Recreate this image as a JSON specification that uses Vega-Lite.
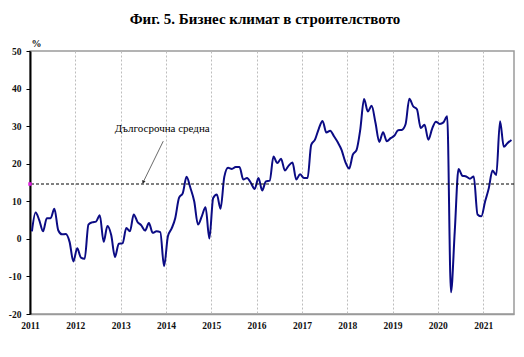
{
  "$schema": "https://vega.github.io/schema/vega-lite/v6.json",
  "autosize": {"type": "none"},
  "width": 484,
  "height": 263,
  "padding": {"left": 30, "top": 51, "right": 10, "bottom": 43},
  "background": "white",
  "title": {
    "text": "Фиг. 5. Бизнес климат в строителството",
    "font": "Liberation Serif",
    "fontSize": 15,
    "fontWeight": "bold",
    "color": "#000",
    "anchor": "middle",
    "frame": "group",
    "offset": 11,
    "dx": -7
  },
  "config": {
    "view": {"stroke": "#9a9a9a", "strokeWidth": 1.5},
    "axis": {
      "labelFont": "Liberation Serif",
      "labelFontSize": 9.5,
      "labelFontWeight": "bold",
      "labelColor": "#111",
      "titleFont": "Liberation Serif",
      "titleFontSize": 10,
      "titleFontWeight": "bold",
      "titleColor": "#111"
    },
    "axisY": {"labelOverlap": false, "tickCount": 8}
  },
  "datasets": {
    "series": [
      {"d": "2011-01-01", "v": 2.0}, {"d": "2011-02-01", "v": 7.0}, {"d": "2011-03-01", "v": 5.0}, {"d": "2011-04-01", "v": 2.0},
      {"d": "2011-05-01", "v": 5.5}, {"d": "2011-06-01", "v": 5.5}, {"d": "2011-07-01", "v": 8.0}, {"d": "2011-08-01", "v": 2.3},
      {"d": "2011-09-01", "v": 1.2}, {"d": "2011-10-01", "v": 1.3}, {"d": "2011-11-01", "v": -0.8}, {"d": "2011-12-01", "v": -6.0},
      {"d": "2012-01-01", "v": -2.5}, {"d": "2012-02-01", "v": -5.0}, {"d": "2012-03-01", "v": -5.3}, {"d": "2012-04-01", "v": 3.8},
      {"d": "2012-05-01", "v": 4.4}, {"d": "2012-06-01", "v": 4.6}, {"d": "2012-07-01", "v": 6.3}, {"d": "2012-08-01", "v": -0.8},
      {"d": "2012-09-01", "v": 3.4}, {"d": "2012-10-01", "v": 1.0}, {"d": "2012-11-01", "v": -4.8}, {"d": "2012-12-01", "v": -1.3},
      {"d": "2013-01-01", "v": -1.2}, {"d": "2013-02-01", "v": 2.9}, {"d": "2013-03-01", "v": 2.0}, {"d": "2013-04-01", "v": 6.5},
      {"d": "2013-05-01", "v": 4.5}, {"d": "2013-06-01", "v": 3.6}, {"d": "2013-07-01", "v": 2.2}, {"d": "2013-08-01", "v": 4.2},
      {"d": "2013-09-01", "v": 1.6}, {"d": "2013-10-01", "v": 2.0}, {"d": "2013-11-01", "v": 1.8}, {"d": "2013-12-01", "v": -7.3},
      {"d": "2014-01-01", "v": 0.7}, {"d": "2014-02-01", "v": 2.7}, {"d": "2014-03-01", "v": 5.5}, {"d": "2014-04-01", "v": 10.9},
      {"d": "2014-05-01", "v": 12.2}, {"d": "2014-06-01", "v": 16.5}, {"d": "2014-07-01", "v": 13.6}, {"d": "2014-08-01", "v": 10.0},
      {"d": "2014-09-01", "v": 3.8}, {"d": "2014-10-01", "v": 6.0}, {"d": "2014-11-01", "v": 8.4}, {"d": "2014-12-01", "v": 0.1},
      {"d": "2015-01-01", "v": 10.9}, {"d": "2015-02-01", "v": 11.8}, {"d": "2015-03-01", "v": 8.0}, {"d": "2015-04-01", "v": 16.5},
      {"d": "2015-05-01", "v": 18.9}, {"d": "2015-06-01", "v": 18.6}, {"d": "2015-07-01", "v": 19.1}, {"d": "2015-08-01", "v": 19.1},
      {"d": "2015-09-01", "v": 15.8}, {"d": "2015-10-01", "v": 16.2}, {"d": "2015-11-01", "v": 14.9}, {"d": "2015-12-01", "v": 13.3},
      {"d": "2016-01-01", "v": 16.2}, {"d": "2016-02-01", "v": 12.9}, {"d": "2016-03-01", "v": 15.3}, {"d": "2016-04-01", "v": 15.5},
      {"d": "2016-05-01", "v": 21.9}, {"d": "2016-06-01", "v": 20.2}, {"d": "2016-07-01", "v": 21.3}, {"d": "2016-08-01", "v": 18.2},
      {"d": "2016-09-01", "v": 19.5}, {"d": "2016-10-01", "v": 20.3}, {"d": "2016-11-01", "v": 15.8}, {"d": "2016-12-01", "v": 17.2},
      {"d": "2017-01-01", "v": 16.2}, {"d": "2017-02-01", "v": 16.2}, {"d": "2017-03-01", "v": 25.0}, {"d": "2017-04-01", "v": 26.4},
      {"d": "2017-05-01", "v": 29.3}, {"d": "2017-06-01", "v": 31.4}, {"d": "2017-07-01", "v": 28.3}, {"d": "2017-08-01", "v": 28.8},
      {"d": "2017-09-01", "v": 27.3}, {"d": "2017-10-01", "v": 25.7}, {"d": "2017-11-01", "v": 23.7}, {"d": "2017-12-01", "v": 20.5},
      {"d": "2018-01-01", "v": 18.7}, {"d": "2018-02-01", "v": 22.4}, {"d": "2018-03-01", "v": 23.6}, {"d": "2018-04-01", "v": 29.1},
      {"d": "2018-05-01", "v": 37.2}, {"d": "2018-06-01", "v": 33.9}, {"d": "2018-07-01", "v": 35.4}, {"d": "2018-08-01", "v": 30.9},
      {"d": "2018-09-01", "v": 25.8}, {"d": "2018-10-01", "v": 28.4}, {"d": "2018-11-01", "v": 26.0}, {"d": "2018-12-01", "v": 26.8},
      {"d": "2019-01-01", "v": 27.5}, {"d": "2019-02-01", "v": 28.9}, {"d": "2019-03-01", "v": 29.0}, {"d": "2019-04-01", "v": 30.5},
      {"d": "2019-05-01", "v": 37.3}, {"d": "2019-06-01", "v": 35.3}, {"d": "2019-07-01", "v": 34.5}, {"d": "2019-08-01", "v": 29.5},
      {"d": "2019-09-01", "v": 30.4}, {"d": "2019-10-01", "v": 26.4}, {"d": "2019-11-01", "v": 29.3}, {"d": "2019-12-01", "v": 31.2},
      {"d": "2020-01-01", "v": 30.6}, {"d": "2020-02-01", "v": 31.0}, {"d": "2020-03-01", "v": 32.6}, {"d": "2020-04-01", "v": -14.2},
      {"d": "2020-05-01", "v": 2.0}, {"d": "2020-06-01", "v": 18.6}, {"d": "2020-07-01", "v": 16.8}, {"d": "2020-08-01", "v": 16.6},
      {"d": "2020-09-01", "v": 16.0}, {"d": "2020-10-01", "v": 16.6}, {"d": "2020-11-01", "v": 6.5}, {"d": "2020-12-01", "v": 6.0},
      {"d": "2021-01-01", "v": 10.0}, {"d": "2021-02-01", "v": 13.5}, {"d": "2021-03-01", "v": 18.2}, {"d": "2021-04-01", "v": 17.0},
      {"d": "2021-05-01", "v": 31.3}, {"d": "2021-06-01", "v": 24.5}, {"d": "2021-07-01", "v": 25.5}, {"d": "2021-08-01", "v": 26.3}
    ],
    "avg": [{"d": "2011-01-01", "v": 14.6}],
    "note": [{"d": "2012-11-15", "v": 29.3, "label": "Дългосрочна средна"}],
    "arrow": [{"d1": "2013-12-10", "v1": 26.0, "d2": "2013-07-03", "v2": 15.2}]
  },
  "layer": [
    {
      "data": {"name": "series"},
      "mark": {"type": "line", "interpolate": "monotone", "color": "#0b0b84", "strokeWidth": 2},
      "encoding": {
        "x": {
          "field": "d",
          "type": "temporal",
          "timeUnit": "utcyearmonth",
          "bandPosition": 0.5,
          "scale": {"type": "utc", "domain": [{"year": 2011, "month": 1, "date": 1, "utc": true}, {"year": 2021, "month": 9, "date": 6, "utc": true}]},
          "axis": {
            "title": null,
            "format": "%Y",
            "tickCount": {"interval": "year", "step": 1},
            "grid": true,
            "gridColor": "#bdbdbd",
            "gridDash": [2, 2],
            "gridWidth": 1,
            "domainColor": "#9a9a9a",
            "domainWidth": 1.5,
            "ticks": false,
            "labelPadding": 6,
            "labelFlush": false,
            "labelOverlap": false
          }
        },
        "y": {
          "field": "v",
          "type": "quantitative",
          "scale": {"domain": [-20, 50], "nice": false, "zero": false},
          "axis": {
            "title": "%",
            "titleAngle": 0,
            "titleAlign": "left",
            "titleBaseline": "middle",
            "titleX": 1,
            "titleY": -8,
            "values": [-20, -10, 0, 10, 20, 30, 40, 50],
            "labelExpr": "'' + datum.value",
            "labelOverlap": false,
            "labelFlush": false,
            "grid": false,
            "domainColor": "#000",
            "domainWidth": 2,
            "tickColor": "#000",
            "tickSize": 4,
            "labelPadding": 5
          }
        }
      }
    },
    {
      "mark": {"type": "rule", "color": "#000", "strokeWidth": 1.3},
      "encoding": {"y": {"datum": 0}}
    },
    {
      "data": {"name": "avg"},
      "mark": {"type": "rule", "color": "#000", "strokeWidth": 1, "strokeDash": [3, 2]},
      "encoding": {"y": {"field": "v", "type": "quantitative"}}
    },
    {
      "data": {"name": "avg"},
      "mark": {"type": "point", "shape": "square", "filled": true, "color": "#e020e0", "size": 12, "opacity": 1},
      "encoding": {
        "x": {"field": "d", "type": "temporal"},
        "y": {"field": "v", "type": "quantitative"}
      }
    },
    {
      "data": {"name": "arrow"},
      "mark": {"type": "rule", "color": "#444", "strokeWidth": 0.8},
      "encoding": {
        "x": {"field": "d1", "type": "temporal"},
        "y": {"field": "v1", "type": "quantitative"},
        "x2": {"field": "d2"},
        "y2": {"field": "v2"}
      }
    },
    {
      "data": {"name": "arrow"},
      "mark": {"type": "point", "shape": "triangle", "filled": true, "color": "#222", "size": 14, "angle": 206, "opacity": 1},
      "encoding": {
        "x": {"field": "d2", "type": "temporal"},
        "y": {"field": "v2", "type": "quantitative"}
      }
    },
    {
      "data": {"name": "note"},
      "mark": {"type": "text", "font": "Liberation Serif", "fontSize": 11, "align": "left", "baseline": "middle", "color": "#000"},
      "encoding": {
        "x": {"field": "d", "type": "temporal"},
        "y": {"field": "v", "type": "quantitative"},
        "text": {"field": "label"}
      }
    }
  ]
}
